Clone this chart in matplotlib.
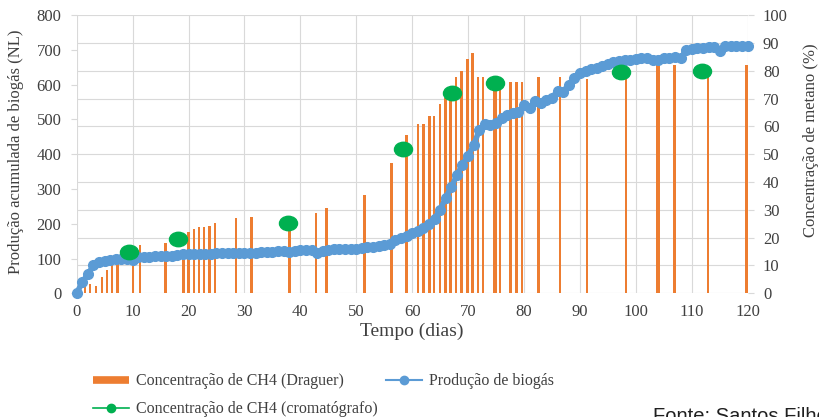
import matplotlib
matplotlib.use("Agg")
import matplotlib.pyplot as plt
import numpy as np
from matplotlib.lines import Line2D
from matplotlib.path import Path
from matplotlib.transforms import Affine2D

# Produção acumulada de biogás (NL), one reading per day
biogas_days = list(range(0, 121))
biogas_nl = [
    0, 32, 55, 80, 89, 93, 96, 98, 98, 98,
    95, 104, 105, 105, 106, 106, 107, 108, 110, 112,
    113, 113, 113, 114, 114, 115, 115, 115, 115, 116,
    116, 117, 117, 118, 119, 120, 121, 122, 118, 123,
    124, 124, 124, 116, 123, 125, 126, 126, 127, 128,
    128, 130, 132, 134, 136, 139, 143, 153, 160, 166,
    172, 180, 188, 198, 215, 240, 275, 305, 340, 370,
    395, 425, 470, 487, 485, 490, 505, 512, 517, 522,
    540, 533, 552, 548, 555, 562, 582, 580, 600, 620,
    632, 640, 645, 648, 652, 658, 665, 668, 670, 672,
    673, 675, 675, 672, 672, 675, 676, 678, 675, 700,
    702, 704, 706, 708, 708, 697, 710, 712, 712, 712,
    712,
]

# Concentração de CH4 (Draguer), %
draguer_days = [1.5, 2.4, 3.5, 4.5, 5.4, 6.3, 7.3, 10.1, 11.3, 15.9,
                19.1, 20.0, 21.0, 21.9, 22.8, 23.8, 24.7, 28.5, 31.3, 38.1,
                42.8, 44.7, 51.5, 56.3, 59.0, 61.0, 62.0, 63.1, 63.9, 65.0,
                66.0, 66.9, 67.8, 68.8, 69.9, 70.8, 71.8, 72.7, 74.6, 74.9,
                75.7, 77.6, 78.7, 79.6, 82.6, 86.4, 91.3, 98.2, 103.8, 104.1,
                106.9, 112.9, 119.8]
draguer_pct = [2.5, 3.2, 2.6, 5.8, 8.4, 10.0, 10.8, 14.0, 17.2, 18.0,
               16.0, 22.2, 23.0, 23.7, 23.7, 24.2, 25.1, 27.0, 27.4, 22.5,
               28.7, 30.5, 35.3, 46.9, 56.9, 60.8, 60.8, 63.8, 63.8, 68.0,
               70.1, 71.0, 77.8, 80.0, 84.1, 86.2, 77.8, 77.8, 75.0, 75.0,
               73.7, 76.0, 76.0, 76.0, 77.8, 77.8, 76.9, 78.0, 82.0, 82.0,
               82.0, 78.0, 82.0]

# Concentração de CH4 (cromatógrafo), %
croma_days = [9.4, 18.2, 37.8, 58.3, 67.1, 74.8, 97.3, 111.9]
croma_pct = [15.0, 19.4, 25.4, 51.7, 71.9, 75.5, 79.6, 80.0]

ORANGE = "#ED7D31"
BLUE = "#5B9BD5"
GREEN = "#00B050"
GRID = "#D9D9D9"
TEXT = "#404040"
SERIF = "Liberation Serif"

fig = plt.figure(figsize=(8.2, 4.17), dpi=100)
ax2 = fig.add_axes([0.0935, 0.2966, 0.8183, 0.6674])
ax = ax2.twinx()
# left axis drawn on top so the biogas curve sits over the bars
ax.set_zorder(ax2.get_zorder() + 1)
ax.patch.set_visible(False)
ax.yaxis.tick_left()
ax2.yaxis.tick_right()
ax.yaxis.set_label_position("left")
ax2.yaxis.set_label_position("right")

ax2.bar(draguer_days, draguer_pct, width=0.45, color=ORANGE, zorder=2)
ax2.set_ylim(0, 100)
ax2.set_yticks(range(0, 101, 10))
ax2.set_xlim(0, 120)
ax2.set_xticks(range(0, 121, 10))
ax2.grid(True, color=GRID, linewidth=0.8)
ax2.set_axisbelow(True)

ax.plot(biogas_days, biogas_nl, color=BLUE, lw=4, marker="o", ms=7,
        clip_on=False, zorder=3)
ell = Path.unit_circle().transformed(Affine2D().scale(1.25, 1.0))
ax.plot(croma_days, croma_pct, linestyle="none", marker=ell, ms=13,
        color=GREEN, transform=ax2.transData, clip_on=False, zorder=4)
ax.set_ylim(0, 800)
ax.set_yticks(range(0, 801, 100))

for a in (ax, ax2):
    for s in a.spines.values():
        s.set_visible(False)
    a.tick_params(axis="y", length=4, color=GRID, pad=7, labelsize=12,
                  labelcolor=TEXT)
    a.tick_params(axis="x", length=0, pad=8, labelsize=12, labelcolor=TEXT)
    for lab in a.get_xticklabels() + a.get_yticklabels():
        lab.set_fontfamily(SERIF)

ax.set_ylabel("Produção acumulada de biogás (NL)", fontfamily=SERIF,
              fontsize=12, color=TEXT)
ax2.set_ylabel("Concentração de metano (%)", fontfamily=SERIF,
               fontsize=12, color=TEXT, rotation=90)
ax2.set_xlabel("Tempo (dias)", fontfamily=SERIF, fontsize=14, color=TEXT)
ax.yaxis.set_label_coords(-0.079, 0.51)
ax2.yaxis.set_label_coords(1.082, 0.55)
ax2.xaxis.set_label_coords(0.5, -0.105)

handles = [
    Line2D([], [], color=ORANGE, lw=5.5, solid_capstyle="butt"),
    Line2D([], [], color=GREEN, lw=1.2, marker="o", ms=6),
    Line2D([], [], color=BLUE, lw=1.5, marker="o", ms=6),
]
labels = ["Concentração de CH4 (Draguer)",
          "Concentração de CH4 (cromatógrafo)",
          "Produção de biogás"]
fig.legend(handles, labels, loc="upper left", bbox_to_anchor=(0.113, 0.105),
           ncol=2, frameon=False, handlelength=2.3, handletextpad=0.4,
           columnspacing=0.5, labelspacing=0.75, borderpad=0, borderaxespad=0,
           prop={"family": SERIF, "size": 11.5}, labelcolor=TEXT)

fig.text(0.796, -0.011, "Fonte: Santos Filho", fontfamily="Liberation Sans",
         fontsize=14.5, va="baseline", ha="left", color="#202020")

fig.savefig("out.png", dpi=100)
